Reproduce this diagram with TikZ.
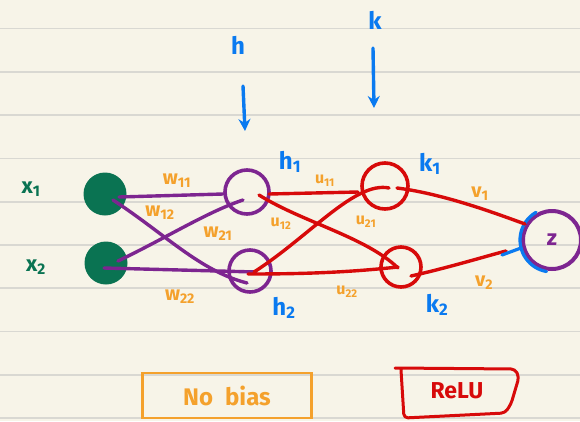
\documentclass[tikz,border=0pt]{standalone}
\usepackage{fontspec}
\setmainfont{Fira Sans}
\usetikzlibrary{calc,arrows.meta}
\definecolor{paper}{HTML}{F7F4E8}
\definecolor{rulec}{HTML}{D9D8D2}
\definecolor{ngreen}{HTML}{0A7352}
\definecolor{npurple}{HTML}{7D2590}
\definecolor{nred}{HTML}{D70A0A}
\definecolor{norange}{HTML}{F4A12C}
\definecolor{nblue}{HTML}{0A7AF0}
\tikzset{
  rule/.style={rulec, line width=1.4pt},
  inode/.style={circle, fill=ngreen, inner sep=0pt, minimum size=43pt},
  hnode/.style={circle, draw=npurple, line width=3.6pt, inner sep=0pt, minimum size=44pt},
  knode/.style={circle, draw=nred, line width=3.6pt, inner sep=0pt, minimum size=44pt},
  znode/.style={circle, draw=npurple, line width=4pt, inner sep=0pt, minimum size=58pt},
  wedge/.style={npurple, line width=3.4pt, line cap=round},
  uedge/.style={nred, line width=3.4pt, line cap=round},
  wlab/.style={norange, font=\fontsize{20}{20}\selectfont\bfseries, inner sep=0pt},
  ulab/.style={norange, font=\fontsize{16}{16}\selectfont\bfseries, inner sep=0pt},
  blab/.style={nblue, font=\fontsize{24}{24}\selectfont\bfseries, inner sep=0pt},
  glab/.style={ngreen, font=\fontsize{22}{22}\selectfont\bfseries, inner sep=0pt},
  barrow/.style={nblue, line width=3.4pt, line cap=round, -{Stealth[length=12pt,width=12pt]}},
}
\newcommand{\sbs}[1]{\textsubscript{#1}}
\begin{document}
\begin{tikzpicture}[x=1pt,y=-1pt]
\fill[paper] (0,0) rectangle (580,421);
\useasboundingbox (0,0) rectangle (580,421);
\foreach \yy in {28.5,72,115,158.5,202,245,288,331.5,375,418}
  \draw[rule] (0,\yy) -- (580,\yy);

% nodes
\node[inode] (x1) at (105,194) {};
\node[inode] (x2) at (106,263) {};
\node[hnode] (h1) at (247,192) {};
\node[hnode, minimum size=42pt] (h2) at (250,271) {};
\node[knode, minimum size=46pt] (k1) at (385,186) {};
\node[knode, minimum size=40pt] (k2) at (401,267) {};
\node[znode, text=npurple, font=\fontsize{22}{22}\selectfont\bfseries] (z) at (552,240) {z};
\draw[nblue, line width=3.2pt, line cap=round] ($(z.center)+(100:32)$) arc[start angle=100, end angle=240, radius=32];

% input to hidden
\draw[wedge] ($(x1)+(14,3)$) -- ($(h1)+(-24,2)$);
\draw[wedge] ($(x1)+(8,6)$) .. controls ($(x1)+(60,40)$) and ($(h2)+(-50,0)$) .. ($(h2)+(-3,12)$);
\draw[wedge] ($(x2)+(12,-2)$) .. controls ($(x2)+(60,-25)$) and ($(h1)+(-40,20)$) .. ($(h1)+(-4,8)$);
\draw[wedge] ($(x2)+(-2,5)$) -- ($(h2)+(6,1)$);

% hidden to k
\draw[uedge] ($(h1)+(22,2)$) -- ($(k1)+(-27,6)$);
\draw[uedge] ($(h1)+(12,3)$) .. controls ($(h1)+(55,30)$) and ($(k2)+(-35,-30)$) .. ($(k2)+(-3,1)$);
\draw[uedge] ($(h2)+(4,1)$) .. controls ($(h2)+(60,-35)$) and ($(k1)+(-30,-5)$) .. ($(k1)+(4,2)$);
\draw[uedge] ($(h2)+(-2,3)$) .. controls ($(h2)+(60,3)$) and ($(k2)+(-50,5)$) .. ($(k2)+(-3,0)$);

% k to z
\draw[uedge] ($(k1)+(12,2)$) .. controls ($(k1)+(60,8)$) and ($(z)+(-52,-25)$) .. ($(z)+(-27,-16)$);
\draw[uedge] ($(k2)+(10,9)$) .. controls ($(k2)+(50,0)$) and ($(z)+(-62,15)$) .. ($(z)+(-46,11)$);
\draw[nblue, line width=3.2pt, line cap=round] ($(z)+(-50,15)$) -- ($(z)+(-31,8)$);

% labels
\node[glab] (lx1) at (31,189) {x\sbs{1}};
\node[glab] (lx2) at (36,267) {x\sbs{2}};
\node[wlab] (lw11) at (177,181) {w\sbs{11}};
\node[wlab] (lw12) at (160,213) {w\sbs{12}};
\node[wlab] (lw21) at (218,234) {w\sbs{21}};
\node[wlab] (lw22) at (180,297) {w\sbs{22}};
\node[blab] (lh1) at (290,162) {h\sbs{1}};
\node[blab] (lh2) at (284,308) {h\sbs{2}};
\node[ulab] (lu11) at (325,181) {u\sbs{11}};
\node[ulab] (lu12) at (281,224) {u\sbs{12}};
\node[ulab] (lu21) at (366,222) {u\sbs{21}};
\node[ulab] (lu22) at (347,292) {u\sbs{22}};
\node[blab] (lk1) at (430,164) {k\sbs{1}};
\node[blab] (lk2) at (437,305) {k\sbs{2}};
\node[wlab] (lv1) at (480,194) {v\sbs{1}};
\node[wlab] (lv2) at (484,283) {v\sbs{2}};

% top annotations
\node[blab] (th) at (238,45) {h};
\coordinate (ah) at (245,131);
\draw[barrow] (243,86) -- (ah);
\node[blab] (tk) at (375,20) {k};
\coordinate (ak) at (374,108);
\draw[barrow] (373,48) -- (ak);

% boxes
\node[draw=norange, line width=2.4pt, minimum width=169pt, minimum height=45pt, inner sep=0pt,
      text=norange, font=\fontsize{24}{24}\selectfont\bfseries] (nobias) at (227,395.5) {No\enspace bias};
\node[text=nred, font=\fontsize{23}{23}\selectfont\bfseries] (relu) at (457,391) {ReLU};
\draw[nred, line width=3pt, line join=round, line cap=round, rounded corners=4pt]
  (395,368) -- (515,369) -- (519,377) -- (511,404) -- (505,413) -- (404,418) -- (401,370);
\end{tikzpicture}
\end{document}
